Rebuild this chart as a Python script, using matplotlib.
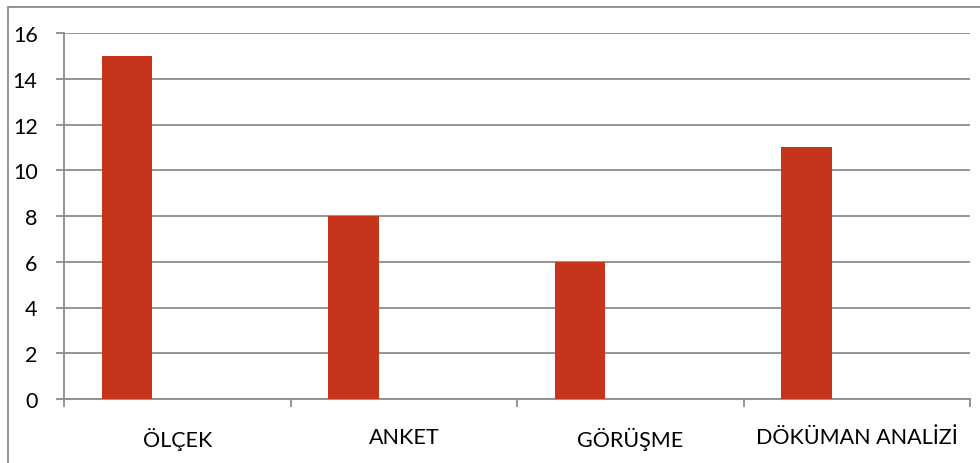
import matplotlib.pyplot as plt
from matplotlib.patches import Rectangle
import numpy as np

categories = ["ÖLÇEK", "ANKET", "GÖRÜŞME", "DÖKÜMAN ANALİZİ"]
values = [15, 8, 6, 11]
yticks = [0, 2, 4, 6, 8, 10, 12, 14, 16]

BAR_COLOR = "#C5341B"
GRID = "#8C8C8C"

plt.rcParams["font.family"] = ["Lato", "DejaVu Sans"]

fig = plt.figure(figsize=(9.8, 4.64), dpi=100)
ax = fig.add_axes([64 / 980, 64 / 464, 906 / 980, 366 / 464])

# excel-style clustered layout: three slots per category, only first used
w = 1 / 4.5
x = np.arange(len(categories))
ax.bar(x - 0.5 + 0.75 * w, values, width=w, align="edge", color=BAR_COLOR, zorder=3)

ax.set_xlim(-0.5, len(categories) - 0.5)
ax.set_ylim(0, 16)
ax.set_yticks(yticks)
ax.set_yticklabels([str(v) for v in yticks], fontsize=15.5)
ax.yaxis.grid(True, color=GRID, linewidth=1.3)
ax.set_axisbelow(True)

ax.set_xticks(x)
ax.set_xticklabels(categories, fontsize=15.5)
ax.tick_params(axis="x", which="major", length=0, pad=20)
ax.set_xticks(np.arange(len(categories) + 1) - 0.5, minor=True)
ax.tick_params(axis="x", which="minor", length=5.5, width=1.3, color=GRID, direction="out")
ax.tick_params(axis="y", length=6, width=1.3, color=GRID, pad=13)

for s in ["top", "right"]:
    ax.spines[s].set_visible(False)
for s in ["left", "bottom"]:
    ax.spines[s].set_color(GRID)
    ax.spines[s].set_linewidth(1.3)

# outer chart border (right/bottom fall outside the image)
fig.patches.append(Rectangle((8 / 980, -0.1), 1.1, (456 / 464) + 0.1,
                             transform=fig.transFigure, fill=False,
                             edgecolor=GRID, linewidth=1.3))

fig.savefig("out.png", dpi=100)
